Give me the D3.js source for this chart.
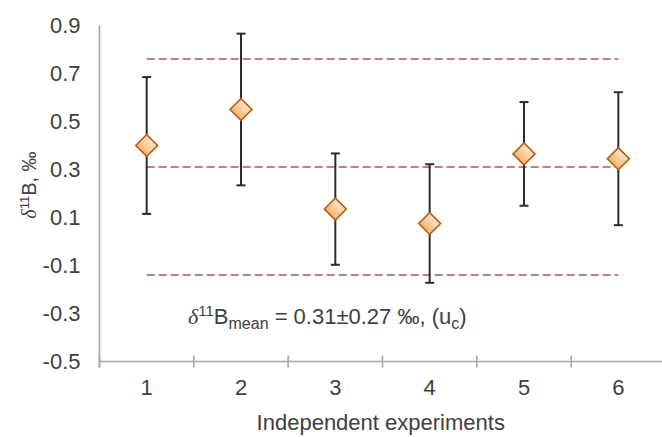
<!DOCTYPE html>
<html>
<head>
<meta charset="utf-8">
<script src="https://cdn.jsdelivr.net/npm/d3@7"></script>
<style>
  body { margin: 0; background: #fff; }
  text { font-family: "Liberation Sans", Arial, sans-serif; fill: #404040; }
</style>
</head>
<body>
<script>
const categories = ["1", "2", "3", "4", "5", "6"];
const values = [0.40, 0.55, 0.135, 0.075, 0.365, 0.345];
const errors = [0.285, 0.316, 0.232, 0.247, 0.216, 0.277];
const refLines = [0.76, 0.31, -0.14];
const yTicks = [-0.5, -0.3, -0.1, 0.1, 0.3, 0.5, 0.7, 0.9];
const xTitle = "Independent experiments";

const W = 662, H = 437;
const L = 99.5, R = 665.5, T = 25.5, B = 361.5;

const svg = d3.select("body").append("svg").attr("width", W).attr("height", H);

const defs = svg.append("defs");
const grad = defs.append("linearGradient").attr("id", "dg")
  .attr("x1", 0).attr("y1", 0).attr("x2", 0).attr("y2", 1);
grad.append("stop").attr("offset", "0%").attr("stop-color", "#fee6cc");
grad.append("stop").attr("offset", "100%").attr("stop-color", "#f9b46e");

const x = d3.scaleBand().domain(categories).range([L, R]).padding(0);
const xb = d3.scaleLinear().domain([0, categories.length]).range([L, R]);
const y = d3.scaleLinear().domain([-0.5, 0.9]).range([B, T]);

const axisColor = "#a6a6a6";

// Y axis
const gy = svg.append("g").attr("transform", `translate(${L},0)`)
  .call(d3.axisLeft(y).tickValues(yTicks).tickSize(0).tickPadding(19)
    .tickFormat(d => d.toFixed(1)));
gy.select(".domain").remove();
gy.selectAll("text").style("font-size", "22px").attr("fill", "#404040")
  .style("font-family", '"Liberation Sans", Arial, sans-serif');
svg.append("line").attr("x1", L).attr("x2", L).attr("y1", y(0.9)).attr("y2", B + 6)
  .attr("stroke", axisColor).attr("stroke-width", 1.6);

// X axis
const gx = svg.append("g").attr("transform", `translate(0,${B})`)
  .call(d3.axisBottom(x).tickSize(0).tickPadding(18));
gx.select(".domain").remove();
gx.selectAll("text").style("font-size", "22px").attr("fill", "#404040")
  .style("font-family", '"Liberation Sans", Arial, sans-serif');
svg.append("line").attr("x1", L).attr("x2", R).attr("y1", B).attr("y2", B)
  .attr("stroke", axisColor).attr("stroke-width", 1.6);
svg.append("g").selectAll("line").data(d3.range(categories.length + 1)).join("line")
  .attr("x1", d => xb(d)).attr("x2", d => xb(d))
  .attr("y1", B - 6).attr("y2", B + 6)
  .attr("stroke", axisColor).attr("stroke-width", 1.6);

// reference dashed lines
const xFirst = x(categories[0]) + x.bandwidth() / 2;
const xLast = x(categories[categories.length - 1]) + x.bandwidth() / 2;
svg.append("g").selectAll("line").data(refLines).join("line")
  .attr("x1", xFirst).attr("x2", xLast)
  .attr("y1", d => y(d)).attr("y2", d => y(d))
  .attr("stroke", "#b5524f").attr("stroke-width", 1.5)
  .attr("stroke-dasharray", "8,4");

// error bars
const data = categories.map((c, i) => ({ c, v: values[i], e: errors[i] }));
const cx = d => x(d.c) + x.bandwidth() / 2;
const eb = svg.append("g").attr("stroke", "#2b2b2b").attr("stroke-width", 2);
eb.selectAll("line.v").data(data).join("line").attr("class", "v")
  .attr("x1", cx).attr("x2", cx)
  .attr("y1", d => y(d.v + d.e)).attr("y2", d => y(d.v - d.e));
eb.selectAll("line.t").data(data).join("line").attr("class", "t")
  .attr("x1", d => cx(d) - 4.5).attr("x2", d => cx(d) + 4.5)
  .attr("y1", d => y(d.v + d.e)).attr("y2", d => y(d.v + d.e));
eb.selectAll("line.b").data(data).join("line").attr("class", "b")
  .attr("x1", d => cx(d) - 4.5).attr("x2", d => cx(d) + 4.5)
  .attr("y1", d => y(d.v - d.e)).attr("y2", d => y(d.v - d.e));

// diamonds
const sym = d3.symbol(d3.symbolSquare, 240);
svg.append("g").selectAll("path").data(data).join("path")
  .attr("d", sym)
  .attr("transform", d => `translate(${cx(d)},${y(d.v)}) rotate(45)`)
  .attr("fill", "url(#dg)").attr("stroke", "#b85d17").attr("stroke-width", 1.6);

// annotation
const ann = svg.append("text").attr("x", 188).attr("y", 324).style("font-size", "22px");
ann.append("tspan").text("δ").style("font-style", "italic")
  .style("font-family", '"Liberation Serif", "DejaVu Serif", serif');
ann.append("tspan").text("11").style("font-size", "15px").attr("dy", -8);
ann.append("tspan").text("B").attr("dy", 8);
ann.append("tspan").text("mean").style("font-size", "16px").attr("dy", 5);
ann.append("tspan").text(" = 0.31±0.27 ‰, (u").attr("dy", -5);
ann.append("tspan").text("c").style("font-size", "16px").attr("dy", 5);
ann.append("tspan").text(")").attr("dy", -5);

// x title
svg.append("text").attr("x", (L + 662) / 2).attr("y", 430).attr("text-anchor", "middle")
  .style("font-size", "22px").text(xTitle);

// y title
const yt = svg.append("text").attr("transform", "translate(36,185) rotate(-90)")
  .attr("text-anchor", "middle").style("font-size", "20px");
yt.append("tspan").text("δ").style("font-style", "italic")
  .style("font-family", '"Liberation Serif", "DejaVu Serif", serif');
yt.append("tspan").text("11").style("font-size", "13px").attr("dy", -7);
yt.append("tspan").text("B, ‰").attr("dy", 7);
</script>
</body>
</html>
